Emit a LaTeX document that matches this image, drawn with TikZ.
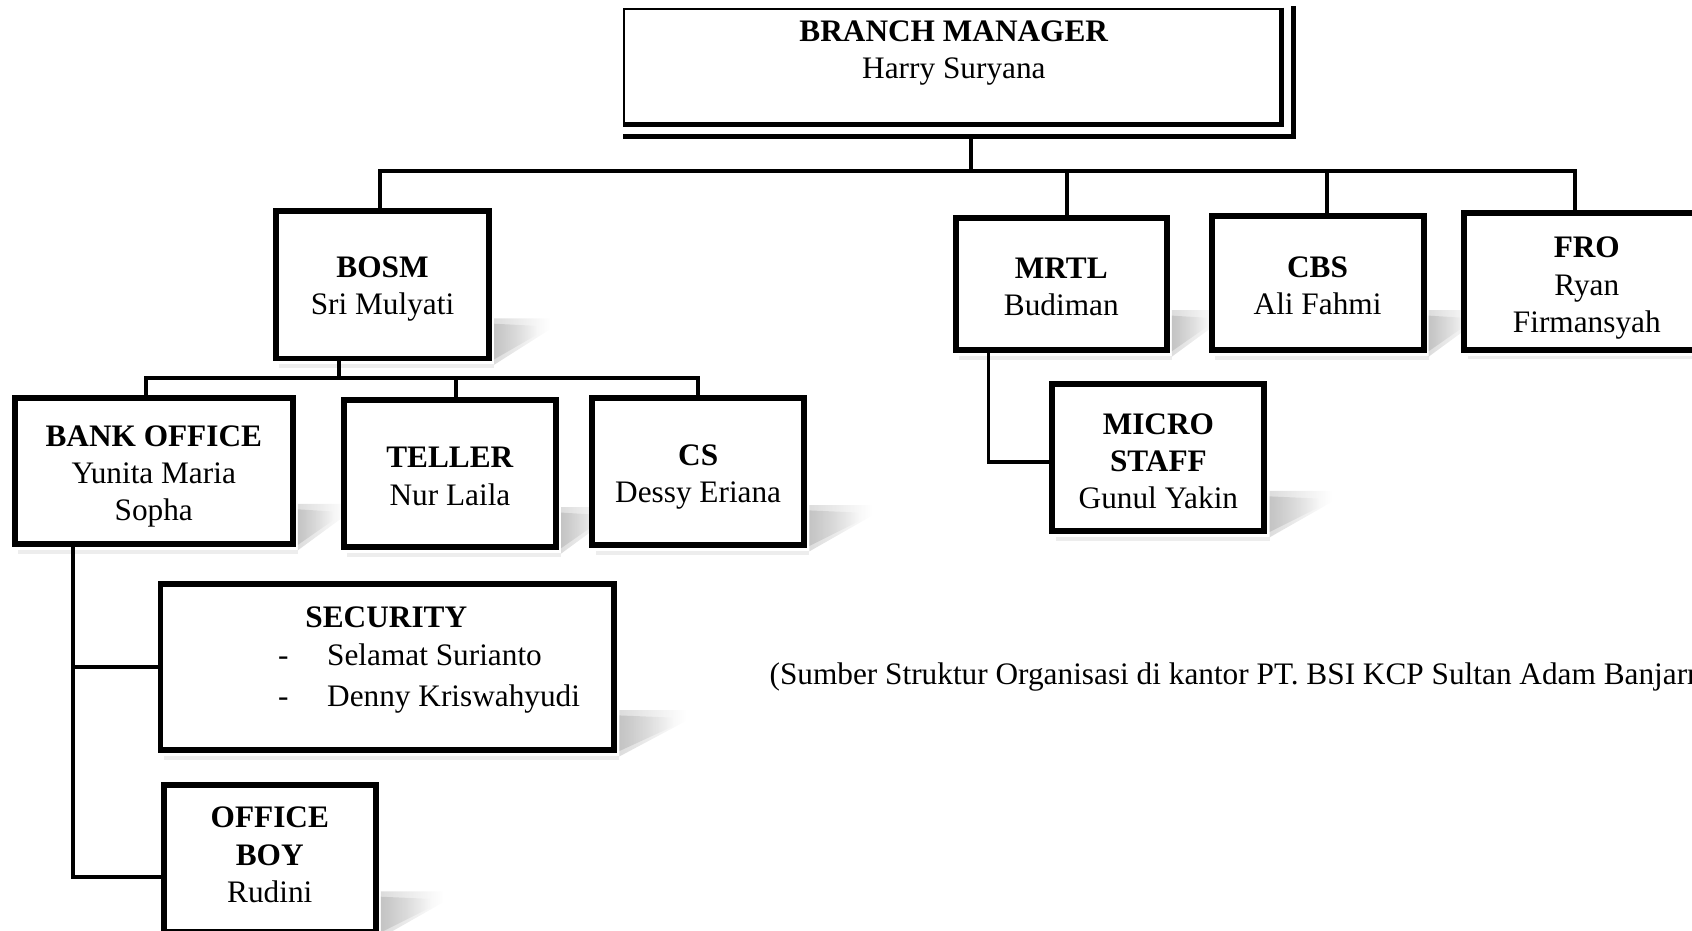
\documentclass[tikz,border=0pt]{standalone}
\usepackage{fontspec}
\setmainfont{Liberation Serif}
\usetikzlibrary{fadings,calc,backgrounds}
\newcommand\softshadow[2]{%
  \fill[black!30, opacity=0.45, path fading=east] ($(#1.south east)+(2,-40)$) -- ++(#2,0) -- ++(0,10) -- ($(#1.south east)+(2,3)$) -- cycle;
  \fill[black!35, opacity=0.45, path fading=east] ($(#1.south east)+(2,-35)$) -- ++(#2-12,2) -- ++(0,8) -- ($(#1.south east)+(2,-2)$) -- cycle;
  \fill[black!20, opacity=0.35] ($(#1.south west)+(6,2.5)$) rectangle ($(#1.south east)+(2,6)$);
}
\begin{document}
\begin{tikzpicture}[x=1pt,y=-1pt,
  every node/.style={font=\fontsize{29}{34.5}\selectfont},
  box/.style={draw, line width=5.5pt, fill=white, inner sep=0pt},
  txt/.style={align=center, inner sep=0pt},
  conn/.style={line width=3.5pt}]
\useasboundingbox (0,0) rectangle (1568,862);
\clip (0,0) rectangle (1568,862);

% ---------- boxes ----------
\node[box, minimum width=197.5, minimum height=136.5] (bosm) at (354.5,264) {};
\node[box, minimum width=257.5, minimum height=135.5] (bank) at (142.5,436.5) {};
\node[box, minimum width=196.5, minimum height=136.5] (teller) at (417,439) {};
\node[box, minimum width=196.5, minimum height=136.5] (cs) at (647,437) {};
\node[box, minimum width=195.5, minimum height=123] (mrtl) at (983.5,263.25) {};
\node[box, minimum width=196.5, minimum height=125] (cbs) at (1221,262.25) {};
\node[box, minimum width=227.5, minimum height=126.5] (fro) at (1470.5,261) {};
\node[box, minimum width=196.5, minimum height=136] (micro) at (1073.5,424.25) {};
\node[box, minimum width=420.5, minimum height=154] (security) at (359,618.25) {};
\node[box, minimum width=196.5, minimum height=136] (oboy) at (250,795.25) {};

% ---------- box texts ----------
\node[txt] (bosmt) at ($(bosm.center)+(0,4)$) {\textbf{BOSM}\\Sri Mulyati};
\node[txt] (bankt) at ($(bank.center)+(0,5)$) {\textbf{BANK OFFICE}\\Yunita Maria\\Sopha};
\node[txt] (tellert) at ($(teller.center)+(0,2.5)$) {\textbf{TELLER}\\Nur Laila};
\node[txt] (cst) at ($(cs.center)+(0,5)$) {\textbf{CS}\\Dessy Eriana};
\node[txt] (mrtlt) at ($(mrtl.center)+(0,2.5)$) {\textbf{MRTL}\\Budiman};
\node[txt] (cbst) at ($(cbs.center)+(0,2.5)$) {\textbf{CBS}\\Ali Fahmi};
\node[txt] (frot) at ($(fro.center)+(0,6)$) {\textbf{FRO}\\Ryan\\Firmansyah};
\node[txt] (microt) at ($(micro.center)+(0,3)$) {\textbf{MICRO}\\\textbf{STAFF}\\Gunul Yakin};
\node[txt] (oboyt) at ($(oboy.center)+(0,-3)$) {\textbf{OFFICE}\\\textbf{BOY}\\Rudini};

% security texts
\node[anchor=base, inner sep=0pt] (sectitle) at (358,581.5) {\textbf{SECURITY}};
\node[anchor=base, inner sep=0pt] (dash1) at (262.5,616.5) {-};
\node[anchor=base west, inner sep=0pt] (sec1) at (303,616.5) {Selamat Surianto};
\node[anchor=base, inner sep=0pt] (dash2) at (262.5,654.5) {-};
\node[anchor=base west, inner sep=0pt] (sec2) at (303,654.5) {Denny Kriswahyudi};

% ---------- branch manager ----------
\node[draw, line width=2pt, fill=white, minimum width=608.5, minimum height=106.5, inner sep=0pt] (bm) at (882.25,61.25) {};
\draw[line width=5pt] (bm.north east) -- (bm.south east) -- (bm.south west);
\draw[line width=5pt] ($(bm.north east)+(11,-1)$) -- ($(bm.south east)+(11,11)$) -- ($(bm.south west)+(0,11)$);
\node[txt] (bmtext) at (884,49) {\textbf{BRANCH MANAGER}\\Harry Suryana};

% ---------- caption ----------
\node[anchor=base west, inner sep=0pt] (caption) at (713,634) {(Sumber Struktur Organisasi di kantor PT. BSI KCP Sultan Adam Banjarmasin)};

% ---------- connectors and shadows (behind) ----------
\begin{pgfonlayer}{background}
\coordinate (bmd) at (899.5,128);
\coordinate (jbosm) at (352,158.5);
\coordinate (jmrtl) at (989,158.5);
\coordinate (jcbs) at (1230,158.5);
\coordinate (jfro) at (1459.5,158.5);
\coordinate (b2) at (314.5,350.5);
\coordinate (jbank) at (135.5,350.5);
\coordinate (jteller) at (422.5,350.5);
\coordinate (jcs) at (646.5,350.5);
\coordinate (bv) at (68,813);
\coordinate (mk) at (916,428);

\softshadow{bosm}{52}
\softshadow{bank}{45}
\softshadow{teller}{45}
\softshadow{cs}{58}
\softshadow{mrtl}{45}
\softshadow{cbs}{45}
\softshadow{fro}{50}
\softshadow{micro}{58}
\softshadow{security}{62}
\softshadow{oboy}{58}

\draw[conn] (bmd) -- (bmd |- jbosm);
\draw[conn] (jbosm |- bosm.north) -- (jbosm) -- (jfro) -- (jfro |- fro.north);
\draw[conn] (jmrtl) -- (jmrtl |- mrtl.north);
\draw[conn] (jcbs) -- (jcbs |- cbs.north);
\draw[conn] (bosm.south -| b2) -- (b2);
\draw[conn] (jbank |- bank.north) -- (jbank) -- (jcs) -- (jcs |- cs.north);
\draw[conn] (jteller) -- (jteller |- teller.north);
\draw[conn] (bank.south -| bv) -- (bv) -- (bv -| oboy.west);
\draw[conn] (security.west -| bv) -- (security.west);
\draw[conn] (mrtl.south -| mk) -- (mk) -- (mk -| micro.west);
\end{pgfonlayer}
\end{tikzpicture}
\end{document}
